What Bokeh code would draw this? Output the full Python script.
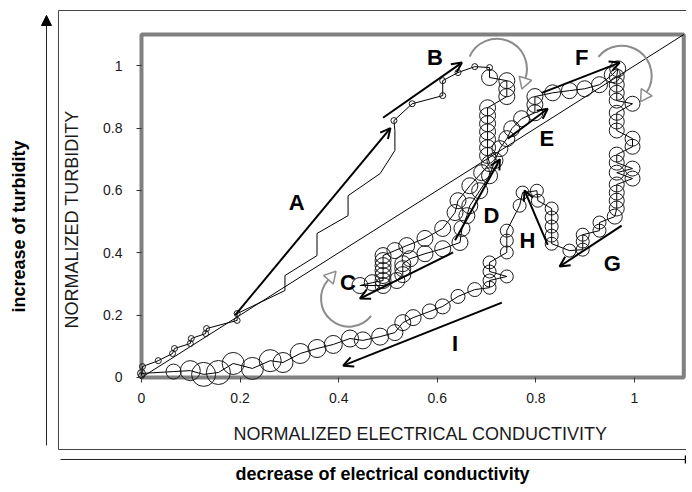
import math
from bokeh.plotting import figure
from bokeh.models import Arrow, OpenHead, NormalHead, TeeHead, FixedTicker, Range1d, LinearAxis
from bokeh.embed import file_html
from bokeh.resources import INLINE
from bokeh.core.properties import value

# ---------------- data ----------------
# normalized electrical conductivity (x), normalized turbidity (y), bubble size value
conductivity = [
    0.000, 0.002, 0.034, 0.063, 0.067, 0.099, 0.101, 0.130, 0.132, 0.194, 0.194,
    0.291, 0.291, 0.356, 0.356, 0.419, 0.419, 0.484, 0.514, 0.514,
    0.512, 0.549, 0.611, 0.611, 0.642, 0.676, 0.706,
    0.706, 0.741, 0.741, 0.741, 0.702, 0.702, 0.702, 0.702, 0.702, 0.702, 0.702,
    0.706, 0.690, 0.666, 0.642, 0.636, 0.611, 0.575, 0.538, 0.514, 0.490, 0.490,
    0.490, 0.490, 0.490, 0.490, 0.468, 0.443,
    0.490, 0.518, 0.530, 0.530, 0.530, 0.545, 0.575, 0.611, 0.646, 0.650,
    0.660, 0.666, 0.686, 0.706, 0.717, 0.727, 0.741, 0.751, 0.771, 0.798, 0.798,
    0.798, 0.834, 0.868, 0.899, 0.929, 0.955, 0.966,
    0.964, 0.964, 0.964, 0.964, 0.996, 0.964, 0.964, 0.964, 0.996, 0.996, 0.964,
    0.964, 0.996, 0.964, 0.996, 0.964, 0.964, 0.964, 0.964, 0.960,
    0.929, 0.929, 0.895, 0.895, 0.895, 0.868, 0.832, 0.832, 0.832, 0.832, 0.832,
    0.804, 0.802, 0.773, 0.767, 0.741, 0.741, 0.741, 0.706, 0.706, 0.741, 0.706,
    0.706,
    0.676, 0.642, 0.611, 0.585, 0.551, 0.530, 0.514, 0.484, 0.449, 0.423, 0.389,
    0.356, 0.322, 0.287, 0.261, 0.225, 0.186, 0.156, 0.126, 0.099, 0.065, 0.000,
]
turbidity = [
    0.006, 0.035, 0.054, 0.077, 0.093, 0.109, 0.125, 0.141, 0.157, 0.183, 0.205,
    0.279, 0.327, 0.391, 0.462, 0.519, 0.583, 0.654, 0.728, 0.792,
    0.824, 0.878, 0.904, 0.952, 0.978, 0.997, 0.994,
    0.962, 0.952, 0.926, 0.901, 0.865, 0.840, 0.814, 0.788, 0.763, 0.737, 0.712,
    0.686, 0.657, 0.615, 0.567, 0.529, 0.478, 0.446, 0.423, 0.407, 0.391, 0.375,
    0.359, 0.343, 0.327, 0.311, 0.304, 0.295,
    0.295, 0.311, 0.330, 0.349, 0.365, 0.381, 0.397, 0.413, 0.433, 0.478,
    0.519, 0.551, 0.599, 0.647, 0.696, 0.734, 0.766, 0.798, 0.830, 0.849, 0.875,
    0.901, 0.913, 0.920, 0.926, 0.939, 0.971, 0.990,
    0.965, 0.939, 0.913, 0.888, 0.878, 0.849, 0.821, 0.792, 0.766, 0.740, 0.715,
    0.689, 0.670, 0.657, 0.638, 0.619, 0.593, 0.567, 0.542, 0.516,
    0.497, 0.471, 0.458, 0.436, 0.410, 0.407, 0.429, 0.455, 0.484, 0.513, 0.542,
    0.567, 0.599, 0.593, 0.551, 0.471, 0.439, 0.401, 0.369, 0.340, 0.324, 0.311,
    0.288,
    0.282, 0.260, 0.228, 0.212, 0.192, 0.176, 0.144, 0.131, 0.119, 0.125, 0.106,
    0.093, 0.077, 0.048, 0.054, 0.029, 0.045, 0.016, 0.010, 0.022, 0.019, 0.013,
]
bubble = [
    6, 6, 6, 6, 6, 6, 6, 6, 6, 6, 6,
    0, 0, 0, 0, 0, 0, 0, 0, 0,
    6, 6, 6, 6, 6, 6, 6,
    16, 16, 16, 16, 16, 16, 16, 16, 16, 16, 16,
    16, 16, 16, 16, 16, 16, 16, 16, 16, 16, 16,
    16, 16, 16, 16, 16, 16,
    16, 16, 16, 16, 16, 16, 16, 16, 16, 16,
    16, 16, 16, 16, 16, 16, 16, 16, 16, 16, 16,
    16, 16, 16, 16, 16, 16, 16,
    15, 15, 15, 15, 15, 15, 15, 15, 15, 15, 15,
    15, 15, 15, 15, 15, 15, 15, 15, 15,
    13, 13, 13, 13, 13, 13, 13, 13, 13, 13, 13,
    13, 13, 13, 13, 13, 13, 13, 13, 13, 13, 13,
    13,
    14, 14, 15, 15, 16, 16, 16, 17, 17, 17, 18,
    18, 20, 20, 22, 22, 22, 24, 24, 20, 15, 8,
]

x_ticks = [0, 0.2, 0.4, 0.6, 0.8, 1]
x_tick_labels = ["0", "0.2", "0.4", "0.6", "0.8", "1"]
y_ticks = [0, 0.2, 0.4, 0.6, 0.8, 1]
y_tick_labels = ["0", "0.2", "0.4", "0.6", "0.8", "1"]
axis_max = 1.1
x_title = "NORMALIZED ELECTRICAL CONDUCTIVITY"
y_title = "NORMALIZED TURBIDITY"

# phase arrows (start -> end, in data units) and phase letters
arrow_x0 = [0.190, 0.490, 0.632, 0.636, 0.743, 0.812, 0.974, 0.824, 0.731]
arrow_y0 = [0.200, 0.833, 0.401, 0.440, 0.766, 0.913, 0.487, 0.425, 0.240]
arrow_x1 = [0.505, 0.650, 0.443, 0.727, 0.824, 0.970, 0.848, 0.777, 0.409]
arrow_y1 = [0.800, 1.010, 0.253, 0.700, 0.862, 1.010, 0.356, 0.600, 0.038]
letters = ["A", "B", "C", "D", "E", "F", "G", "H", "I"]
letter_x = [0.315, 0.595, 0.419, 0.710, 0.822, 0.893, 0.955, 0.783, 0.636]
letter_y = [0.561, 1.026, 0.304, 0.519, 0.766, 1.026, 0.365, 0.439, 0.109]

# rotation arrows (circular, clockwise): centre, radius (px), start/end angle (deg)
rot_cx = [0.721, 0.974, 0.421]
rot_cy = [0.990, 0.968, 0.253]
rot_r = [30, 30, 28]
rot_start = [156, 141, -38]
rot_end = [-18, -33, 138]

# 1:1 reference line
diag = [0, 1.1]

# ---------------- figure ----------------
W, H = 686, 486
X0, X1 = -0.2860, 1.1055     # visible data window (plot area spans 0..1.1)
Y0, Y1 = -0.3496, 1.2091
px_per_x, px_per_y = W / (X1 - X0), H / (Y1 - Y0)

p = figure(width=W, height=H, x_range=Range1d(X0, X1), y_range=Range1d(Y0, Y1),
           output_backend="svg", toolbar_location=None, title=None,
           x_axis_location=None, y_axis_location=None, min_border=0)
p.grid.visible = False
p.outline_line_color = None
p.background_fill_color = "white"
p.border_fill_color = "white"

FONT = "Liberation Sans"
xaxis = LinearAxis(fixed_location=0)
yaxis = LinearAxis(fixed_location=0)
p.add_layout(xaxis, "below")
p.add_layout(yaxis, "left")
for ax, ticks, labels in ((xaxis, x_ticks, x_tick_labels), (yaxis, y_ticks, y_tick_labels)):
    ax.ticker = FixedTicker(ticks=ticks)
    ax.major_label_overrides = {t: l for t, l in zip(ticks, labels)}
    ax.axis_line_color = None
    ax.major_tick_in = 0
    ax.major_tick_out = 5
    ax.major_tick_line_color = "#333333"
    ax.minor_tick_line_color = None
    ax.major_label_text_font = FONT
    ax.major_label_text_font_size = "14px"
    ax.major_label_text_color = "#1a1a1a"
xaxis.major_label_standoff = 11
yaxis.major_label_standoff = 14

# axis titles
p.text(x=[0.566], y=[-0.180], text=[x_title], text_align="center", text_baseline="middle",
       text_font=value(FONT), text_font_size=value("18px"), text_color="#1a1a1a")
p.text(x=[-0.140], y=[0.507], text=[y_title], angle=math.pi / 2, text_align="center",
       text_baseline="middle", text_font=value(FONT), text_font_size=value("18px"),
       text_color="#1a1a1a")

# plot-area border (gray)
p.quad(left=[0], right=[axis_max], bottom=[0], top=[axis_max], fill_color=None,
       line_color="#808080", line_width=4)

# diagonal line
p.line(diag, diag, line_color="black", line_width=1)

# trajectory line and bubbles
p.line(conductivity, turbidity, line_color="black", line_width=1)
bx = [x for x, b in zip(conductivity, bubble) if b > 0]
by = [y for y, b in zip(turbidity, bubble) if b > 0]
bs = [b for b in bubble if b > 0]
p.scatter(bx, by, size=bs, marker="circle", fill_color=None, line_color="#1a1a1a", line_width=1)

# gray rotation arcs
GRAY = "#8c8c8c"
p.arc(x=rot_cx, y=rot_cy, radius=rot_r, radius_units="screen",
      start_angle=[math.radians(a) for a in rot_start],
      end_angle=[math.radians(a) for a in rot_end],
      direction="clock", line_color=GRAY, line_width=2)
hx, hy, ha = [], [], []
for cx, cy, r, a in zip(rot_cx, rot_cy, rot_r, rot_end):
    t = math.radians(a)
    ux, uy = math.sin(t), -math.cos(t)  # clockwise tangent
    hx.append(cx + (r * math.cos(t) + 4 * ux) / px_per_x)
    hy.append(cy + (r * math.sin(t) + 4 * uy) / px_per_y)
    ha.append(math.atan2(uy, ux) - math.pi / 2)
p.scatter(hx, hy, marker="triangle", size=13, angle=ha, fill_color="white",
          line_color=GRAY, line_width=1.5)

# black phase arrows
for x0, y0, x1, y1 in zip(arrow_x0, arrow_y0, arrow_x1, arrow_y1):
    p.add_layout(Arrow(end=OpenHead(size=10, line_width=2, line_color="black"),
                       x_start=x0, y_start=y0, x_end=x1, y_end=y1,
                       line_color="black", line_width=2))

# phase letters
p.text(x=letter_x, y=letter_y, text=letters, text_font=value(FONT), text_font_style="bold",
       text_font_size=value("22px"), text_align="center", text_baseline="middle",
       text_color="black")

# ---------------- outer schematic frame and axes ----------------
FL, FT, FB, FR = -0.1684, 1.177, -0.2309, 1.2
p.segment(x0=[FL, FL, FL], y0=[FT, FB, FB], x1=[FR, FR, FL], y1=[FT, FB, FT],
          line_color="#444444", line_width=1)
p.add_layout(Arrow(end=NormalHead(size=10, fill_color="black", line_color="black"),
                   x_start=-0.1927, y_start=-0.218, x_end=-0.1927, y_end=1.161,
                   line_color="#222222", line_width=1))
p.add_layout(Arrow(end=TeeHead(size=8, line_color="black", line_width=2),
                   x_start=-0.1643, y_start=-0.263, x_end=1.104, y_end=-0.263,
                   line_color="#222222", line_width=1))

p.text(x=[-0.2485], y=[0.4843], text=["increase of turbidity"], angle=math.pi / 2,
       text_align="center", text_baseline="middle", text_font=value(FONT),
       text_font_style="bold", text_font_size=value("18px"), text_color="black")
p.text(x=[0.489], y=[-0.310], text=["decrease of electrical conductivity"],
       text_align="center", text_baseline="middle", text_font=value(FONT),
       text_font_style="bold", text_font_size=value("18px"), text_color="black")

open("out.html", "w").write(file_html(p, INLINE))
